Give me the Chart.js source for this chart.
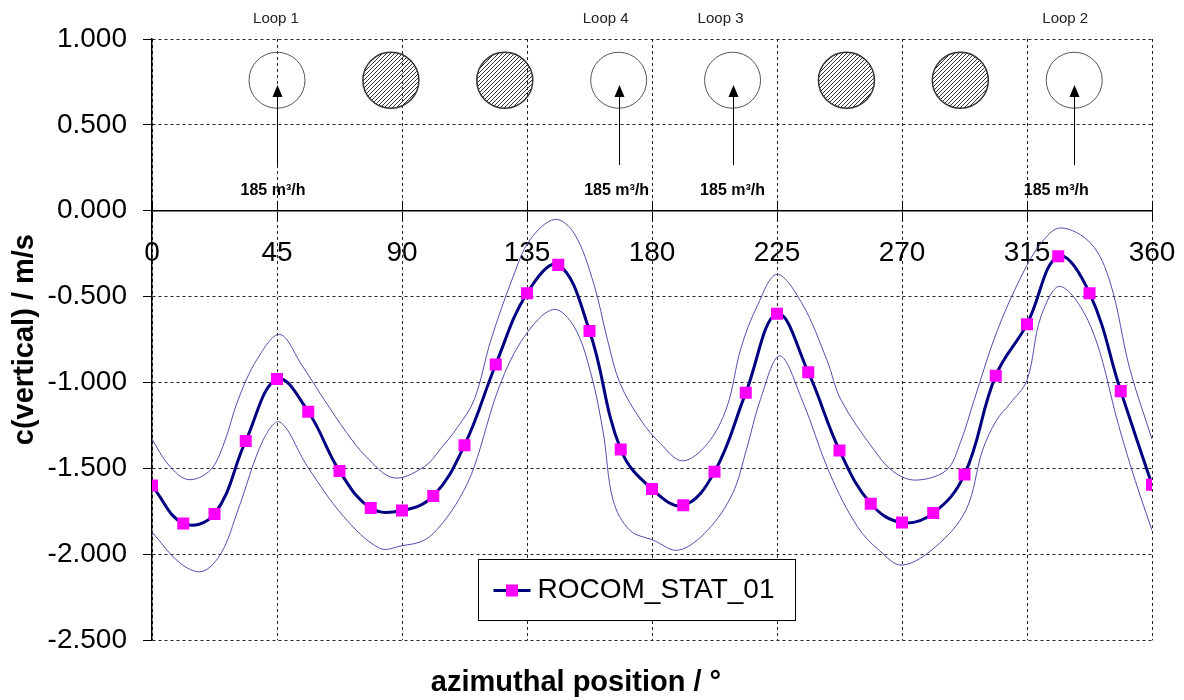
<!DOCTYPE html>
<html><head><meta charset="utf-8">
<script src="https://cdn.jsdelivr.net/npm/chart.js@4.4.1/dist/chart.umd.min.js"></script>
<style>html,body{margin:0;padding:0;background:#fff;} #wrap{width:1184px;height:700px;}</style>
</head><body><div id="wrap"><canvas id="c" width="1184" height="700"></canvas></div>
<script>
// ---- data ----
const angles = [0, 11.25, 22.5, 33.75, 45, 56.25, 67.5, 78.75, 90, 101.25, 112.5, 123.75, 135, 146.25, 157.5, 168.75, 180, 191.25, 202.5, 213.75, 225, 236.25, 247.5, 258.75, 270, 281.25, 292.5, 303.75, 315, 326.25, 337.5, 348.75, 360];
const meanValues = [-1.60, -1.82, -1.765, -1.34, -0.98, -1.17, -1.515, -1.73, -1.745, -1.66, -1.365, -0.895, -0.48, -0.315, -0.70, -1.39, -1.62, -1.715, -1.52, -1.06, -0.60, -0.94, -1.395, -1.705, -1.815, -1.76, -1.535, -0.96, -0.66, -0.265, -0.48, -1.05, -1.595];
const upperAngles = [0, 6, 13, 21, 26, 31, 38, 46, 54, 62, 70, 77, 87, 98, 104, 110, 116, 122, 130, 136, 145, 152, 159, 164, 168.5, 176, 183, 191, 200, 207, 212, 218, 225, 234, 243, 248, 260, 267, 275, 286, 291, 296, 304, 313, 320, 327, 338, 345, 352, 360];
const upperValues = [-1.33, -1.48, -1.565, -1.51, -1.35, -1.10, -0.86, -0.72, -0.90, -1.10, -1.29, -1.43, -1.555, -1.49, -1.384, -1.26, -1.10, -0.753, -0.384, -0.171, -0.05, -0.132, -0.423, -0.753, -1.005, -1.219, -1.355, -1.456, -1.355, -1.141, -0.80, -0.55, -0.37, -0.54, -0.87, -1.10, -1.394, -1.52, -1.568, -1.51, -1.35, -1.10, -0.71, -0.38, -0.19, -0.10, -0.19, -0.42, -0.92, -1.33];
const lowerAngles = [0, 10, 18, 25, 31, 40, 46, 56, 69, 82, 90, 98, 104, 111, 116, 125, 134, 144.5, 152, 158, 162.5, 166, 172, 180.5, 189.5, 200, 209, 214, 219, 226, 234, 244, 254, 262, 270, 282, 293, 299, 304, 309, 315, 320, 327, 338, 348, 352, 356, 360];
const lowerValues = [-1.87, -2.05, -2.10, -1.99, -1.74, -1.335, -1.23, -1.49, -1.78, -1.965, -1.95, -1.918, -1.83, -1.666, -1.49, -1.025, -0.734, -0.574, -0.676, -0.947, -1.297, -1.685, -1.86, -1.918, -1.976, -1.86, -1.646, -1.39, -1.10, -0.845, -1.10, -1.53, -1.84, -1.98, -2.063, -1.957, -1.743, -1.394, -1.22, -1.12, -0.986, -0.617, -0.44, -0.676, -1.25, -1.47, -1.67, -1.86];
const xTicks = [0, 45, 90, 135, 180, 225, 270, 315, 360];
const yTicks = [1.0, 0.5, 0.0, -0.5, -1.0, -1.5, -2.0, -2.5];
const seriesName = 'ROCOM_STAT_01';
const xTitle = 'azimuthal position / °';
const yTitle = 'c(vertical) / m/s';
const loopAngles = [45, 86, 127, 168, 209, 250, 291, 332];
const loopNames = ['Loop 1', '', '', 'Loop 4', 'Loop 3', '', '', 'Loop 2'];
const flowText = '185 m³/h';

// ---- helpers ----
const FONT = '"Liberation Sans", Arial, sans-serif';
const pts = (xs, ys) => xs.map((x, i) => ({x: x, y: ys[i]}));

function hatchPattern(ctx) {
  const c = document.createElement('canvas');
  c.width = 4; c.height = 4;
  const g = c.getContext('2d');
  g.strokeStyle = '#333';
  g.lineWidth = 1;
  g.beginPath();
  g.moveTo(-1, 5); g.lineTo(5, -1);
  g.moveTo(-1, 1); g.lineTo(1, -1);
  g.moveTo(3, 5); g.lineTo(5, 3);
  g.stroke();
  return ctx.createPattern(c, 'repeat');
}

const decorPlugin = {
  id: 'decor',
  beforeDatasetsDraw(chart) {
    // upper half of the crossing tick marks on the x axis
    const ctx = chart.ctx;
    const xs = chart.scales.x, ys = chart.scales.y;
    const y0 = ys.getPixelForValue(0);
    ctx.save();
    ctx.strokeStyle = '#000'; ctx.lineWidth = 1;
    xs.ticks.forEach(t => {
      const px = Math.round(xs.getPixelForValue(t.value)) + 0.5;
      ctx.beginPath(); ctx.moveTo(px, y0 - 10); ctx.lineTo(px, y0); ctx.stroke();
    });
    ctx.restore();
  },
  afterDraw(chart) {
    const ctx = chart.ctx;
    const xs = chart.scales.x, ys = chart.scales.y;
    const ca = chart.chartArea;
    const loopLabelShift = [-1, 0, 0, -13, -12, 0, 0, -9];
    const flowLabelShift = [-4, 0, 0, -2, 0, 0, 0, -18];
    const cy = ys.getPixelForValue(0.76);
    const r = 28;
    ctx.save();
    loopAngles.forEach((a, i) => {
      const cx = xs.getPixelForValue(a);
      const open = loopNames[i] !== '';
      ctx.beginPath();
      ctx.ellipse(cx, cy, r, r, 0, 0, Math.PI * 2);
      if (!open) {
        ctx.fillStyle = hatchPattern(ctx);
        ctx.fill();
        ctx.strokeStyle = '#333';
        ctx.lineWidth = 1.5;
      } else {
        ctx.strokeStyle = '#555';
        ctx.lineWidth = 1;
      }
      ctx.stroke();
      if (open) {
        const ax = Math.round(cx) + 0.5;
        const yb = ys.getPixelForValue(0.266);
        const yt = ys.getPixelForValue(0.732);
        ctx.strokeStyle = '#000';
        ctx.lineWidth = 1;
        ctx.beginPath(); ctx.moveTo(ax, yb); ctx.lineTo(ax, yt + 10); ctx.stroke();
        ctx.fillStyle = '#000';
        ctx.beginPath(); ctx.moveTo(ax, yt); ctx.lineTo(ax - 5, yt + 12); ctx.lineTo(ax + 5, yt + 12); ctx.closePath(); ctx.fill();
        ctx.textAlign = 'center'; ctx.textBaseline = 'middle';
        ctx.fillStyle = '#222';
        ctx.font = '15px ' + FONT;
        ctx.fillText(loopNames[i], cx + loopLabelShift[i], ys.getPixelForValue(1.12));
        ctx.fillStyle = '#000';
        ctx.font = 'bold 16px ' + FONT;
        ctx.fillText(flowText, cx + flowLabelShift[i], ys.getPixelForValue(0.115));
      }
    });
    // legend box
    const ds = chart.data.datasets[0];
    const lx = ca.left + 326.5, ly = ca.top + 520.5, lw = 317, lh = 61;
    ctx.fillStyle = '#fff';
    ctx.fillRect(lx, ly, lw, lh);
    ctx.strokeStyle = '#000'; ctx.lineWidth = 1;
    ctx.strokeRect(lx, ly, lw, lh);
    const sy = ly + 31;
    ctx.strokeStyle = ds.borderColor; ctx.lineWidth = ds.borderWidth;
    ctx.beginPath(); ctx.moveTo(lx + 15, sy); ctx.lineTo(lx + 52, sy); ctx.stroke();
    ctx.fillStyle = ds.pointBackgroundColor;
    ctx.fillRect(lx + 27.5, sy - 6, 12, 12);
    ctx.fillStyle = '#000';
    ctx.font = '28px ' + FONT;
    ctx.textAlign = 'left'; ctx.textBaseline = 'middle';
    ctx.fillText(ds.label, lx + 59, sy);
    ctx.restore();
  }
};

new Chart(document.getElementById('c'), {
  type: 'line',
  data: {
    datasets: [
      {
        label: seriesName,
        data: pts(angles, meanValues),
        borderColor: '#000080', borderWidth: 3,
        pointStyle: 'rect', pointRadius: 8.5,
        pointBackgroundColor: '#FF00FF', pointBorderColor: '#FF00FF', pointBorderWidth: 0,
        tension: 0.4, order: 0
      },
      {
        label: 'upper',
        data: pts(upperAngles, upperValues),
        borderColor: '#5050AA', borderWidth: 1, pointRadius: 0, tension: 0.35, order: 1
      },
      {
        label: 'lower',
        data: pts(lowerAngles, lowerValues),
        borderColor: '#5050AA', borderWidth: 1, pointRadius: 0, tension: 0.35, order: 1
      }
    ]
  },
  options: {
    responsive: false, animation: false, devicePixelRatio: 1,
    layout: {padding: {left: 0, right: 32, top: 39, bottom: 0}},
    plugins: {
      legend: {display: false},
      tooltip: {enabled: false},
      title: {
        display: true, position: 'bottom', text: xTitle, color: '#000',
        font: {family: FONT, size: 29, weight: 'bold'},
        padding: {top: 25, bottom: 0}
      }
    },
    scales: {
      x: {
        type: 'linear', min: 0, max: 360, position: {y: 0},
        afterBuildTicks: s => { s.ticks = xTicks.map(v => ({value: v})); },
        afterFit: s => { s.paddingLeft = 0; s.paddingRight = 0; s.paddingTop = 0; s.paddingBottom = 0; },
        ticks: {color: '#000', font: {family: FONT, size: 28}, padding: 16, maxRotation: 0, autoSkip: false},
        grid: {color: '#222', lineWidth: 1, tickLength: 10, tickColor: '#000'},
        border: {display: true, color: '#000', width: 1.5, dash: [3, 3]}
      },
      y: {
        type: 'linear', min: -2.5, max: 1.0, position: 'left',
        afterBuildTicks: s => { s.ticks = yTicks.map(v => ({value: v})); },
        afterFit: s => { s.width = 152; },
        ticks: {color: '#000', font: {family: FONT, size: 28}, padding: 16, callback: v => Number(v).toFixed(3)},
        grid: {color: '#222', lineWidth: 1, tickLength: 9, tickColor: '#000'},
        border: {display: true, color: '#000', width: 1.5, dash: [3, 3]},
        title: {display: true, text: yTitle, color: '#000', font: {family: FONT, size: 29, weight: 'bold'}, padding: {top: 8, bottom: 0}}
      }
    }
  },
  plugins: [decorPlugin]
});
</script>
</body></html>
